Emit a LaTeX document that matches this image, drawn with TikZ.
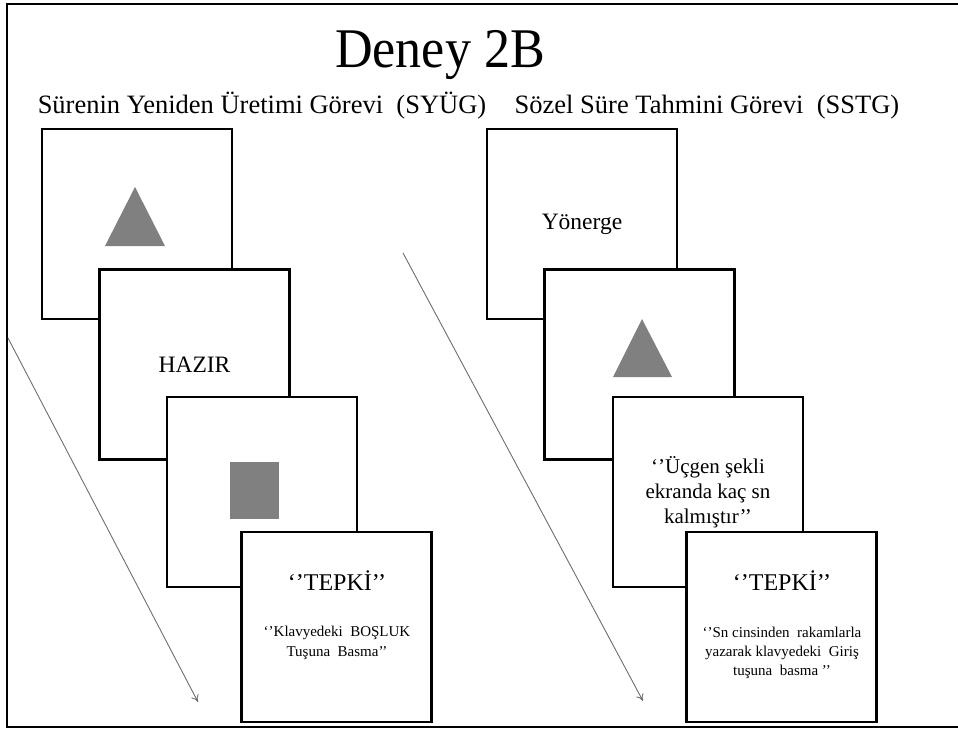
\documentclass[tikz,border=0pt]{standalone}
\usepackage{fontspec}
\setmainfont{Liberation Serif}
\usetikzlibrary{arrows.meta}
\definecolor{shapegray}{RGB}{128,128,128}
\definecolor{arrowgray}{RGB}{110,110,110}
\tikzset{
  card/.style={draw=black, line width=2.6pt, fill=white, minimum width=190pt, minimum height=190pt, inner sep=0pt, align=center, font=\fontsize{23.5}{28}\selectfont},
  flow/.style={draw=arrowgray, line width=0.9pt, -{To[length=7pt,width=8pt]}},
  tepki/.style={font=\fontsize{24}{28}\selectfont, inner sep=0pt},
  note/.style={font=\fontsize{15}{20}\selectfont, align=center, inner sep=0pt},
  subtitle/.style={font=\fontsize{26.5}{30}\selectfont, inner sep=0pt, anchor=base},
  shapefill/.style={fill=shapegray, draw=none}
}
\begin{document}
\begin{tikzpicture}[x=1pt,y=-1pt]
\useasboundingbox (0,0) rectangle (958,729);
% outer frame
\coordinate (fTR) at (962,4);
\coordinate (fTL) at (7,4);
\coordinate (fBL) at (7,727);
\coordinate (fBR) at (962,727);
\draw[line width=1.4pt] (fTR) -- (fTL) -- (fBL) -- (fBR);
% titles
\node[font=\fontsize{56}{60}\selectfont, inner sep=0pt, xscale=0.93] (title) at (440,55) {Deney 2B};
\node[subtitle] (subL) at (262,113) {Sürenin Yeniden Üretimi Görevi~~(SYÜG)};
\node[subtitle] (subR) at (707,113) {Sözel Süre Tahmini Görevi~~(SSTG)};
% arrows
\coordinate (a1s) at (8,338);
\coordinate (a1e) at (198,702);
\coordinate (a2s) at (403,253);
\coordinate (a2e) at (643,701);
\draw[flow] (a1s) -- (a1e);
\draw[flow] (a2s) -- (a2e);
% left column
\node[card] (L1) at (137,224) {};
\fill[shapefill] (105,246) -- (165,246) -- (135,187) -- cycle;
\node[card] (L2) at (194.5,364.5) {HAZIR};
\node[card] (L3) at (262,492) {};
\fill[shapefill] (230,462) rectangle (279,519);
\node[card] (L4) at (336.5,627) {};
\node[tepki] (L4t) at (337,581) {‘’TEPKİ’’};
\node[note] (L4n) at (337,643) {‘’Klavyedeki~~BOŞLUK\\Tuşuna~~Basma’’};
% right column
\node[card] (R1) at (582,224) {Yönerge};
\node[card] (R2) at (639.5,364.5) {};
\fill[shapefill] (613,377) -- (672,377) -- (642,319) -- cycle;
\node[card, font=\fontsize{21}{25}\selectfont] (R3) at (708,492) {‘’Üçgen şekli\\ekranda kaç sn\\kalmıştır’’};
\node[card] (R4) at (781.5,627) {};
\node[tepki] (R4t) at (782,581) {‘’TEPKİ’’};
\node[note, font=\fontsize{15}{19}\selectfont] (R4n) at (782,653) {‘’Sn cinsinden~~rakamlarla\\yazarak klavyedeki~~Giriş\\tuşuna~~basma ’’};
\end{tikzpicture}
\end{document}
